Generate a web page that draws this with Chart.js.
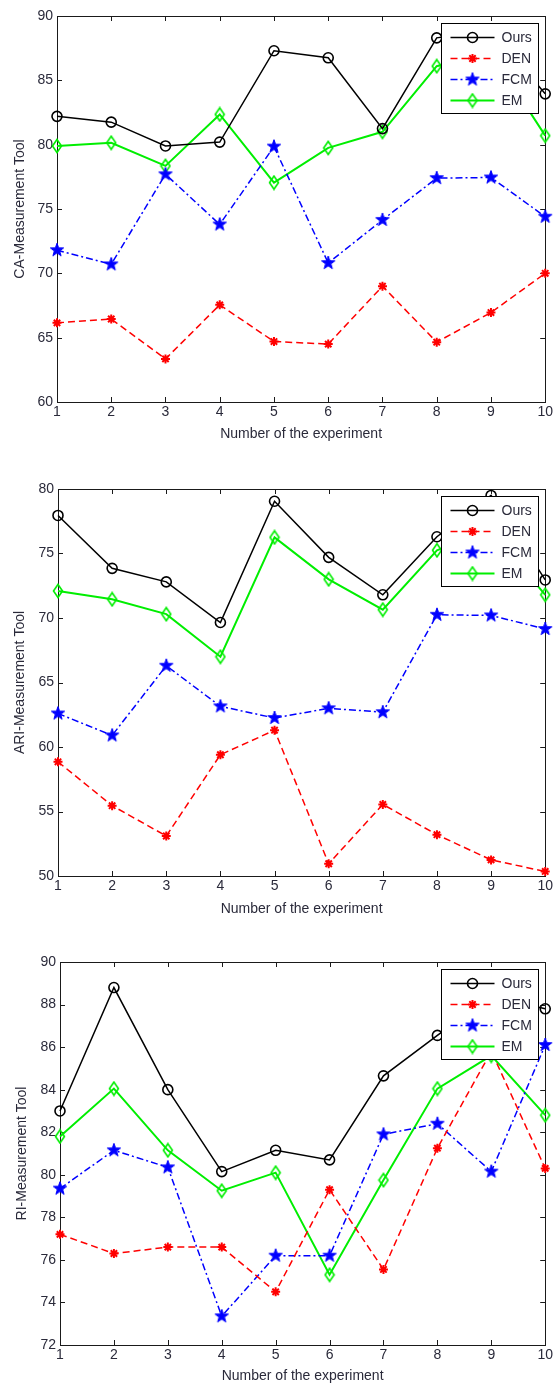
<!DOCTYPE html>
<html>
<head>
<meta charset="utf-8">
<script src="https://cdn.jsdelivr.net/npm/chart.js@4/dist/chart.umd.min.js"></script>
<style>
    body { margin: 0; background: #fff; width: 555px; height: 1387px; position: relative; overflow: hidden; }
    .plot { position: absolute; left: 0; width: 555px; }
</style>
</head>
<body>
<div class="plot" style="top:0;height:445px"><canvas id="caChart"></canvas></div>
<div class="plot" style="top:460px;height:460px"><canvas id="ariChart"></canvas></div>
<div class="plot" style="top:920px;height:467px"><canvas id="riChart"></canvas></div>
<script>
// Experiment numbers (x axis)
const expLabels = ['1', '2', '3', '4', '5', '6', '7', '8', '9', '10'];
const seriesNames = ['Ours', 'DEN', 'FCM', 'EM'];

// CA measurement
const caOurs = [82.2, 81.75, 79.9, 80.2, 87.3, 86.75, 81.25, 88.3, 88.9, 83.95];
const caDen  = [66.15, 66.45, 63.35, 67.55, 64.7, 64.5, 69.0, 64.65, 66.95, 70.0];
const caFcm  = [71.8, 70.7, 77.7, 73.8, 79.85, 70.8, 74.15, 77.4, 77.45, 74.4];
const caEm   = [79.9, 80.15, 78.35, 82.35, 77.05, 79.75, 81.0, 86.1, 87.2, 80.7];

// ARI measurement
const ariOurs = [77.95, 73.85, 72.8, 69.65, 79.05, 74.7, 71.8, 76.3, 79.5, 72.95];
const ariDen  = [58.85, 55.45, 53.1, 59.4, 61.3, 50.95, 55.55, 53.2, 51.25, 50.35];
const ariFcm  = [62.6, 60.9, 66.3, 63.15, 62.25, 63.0, 62.7, 70.25, 70.2, 69.15];
const ariEm   = [72.1, 71.45, 70.3, 67.0, 76.25, 73.0, 70.65, 75.25, 76.8, 71.8];

// RI measurement
const riOurs = [83.0, 88.8, 84.0, 80.15, 81.15, 80.7, 84.65, 86.55, 88.4, 87.8];
const riDen  = [77.2, 76.3, 76.6, 76.6, 74.5, 79.3, 75.55, 81.25, 85.8, 80.3];
const riFcm  = [79.35, 81.15, 80.35, 73.35, 76.2, 76.2, 81.9, 82.4, 80.15, 86.1];
const riEm   = [81.8, 84.05, 81.15, 79.25, 80.1, 75.3, 79.75, 84.05, 85.6, 82.8];

const TEXT = '#2a2a3a';
const FONT = 'Liberation Sans, Arial, sans-serif';

// MATLAB-like marker images
function makePentagram(color, r) {
    const c = document.createElement('canvas');
    c.width = c.height = Math.ceil(2 * r + 2);
    const g = c.getContext('2d');
    const cx = c.width / 2, cy = c.height / 2;
    g.beginPath();
    for (let i = 0; i < 10; i++) {
        const rad = i % 2 === 0 ? r : r * 0.4;
        const a = -Math.PI / 2 + i * Math.PI / 5;
        g.lineTo(cx + rad * Math.cos(a), cy + rad * Math.sin(a));
    }
    g.closePath();
    g.fillStyle = color;
    g.fill();
    g.strokeStyle = color;
    g.lineWidth = 1;
    g.stroke();
    return c;
}

function makeDiamond(color, hw, hh) {
    const c = document.createElement('canvas');
    c.width = Math.ceil(2 * hw + 3);
    c.height = Math.ceil(2 * hh + 3);
    const g = c.getContext('2d');
    const cx = c.width / 2, cy = c.height / 2;
    g.beginPath();
    g.moveTo(cx, cy - hh);
    g.lineTo(cx + hw, cy);
    g.lineTo(cx, cy + hh);
    g.lineTo(cx - hw, cy);
    g.closePath();
    g.strokeStyle = color;
    g.lineWidth = 1.6;
    g.stroke();
    return c;
}

const starImg = makePentagram('#0000ff', 7);
const diamondImg = makeDiamond('#00ee00', 4.5, 6.5);

function buildDatasets(ours, den, fcm, em) {
    return [
        { label: seriesNames[0], data: ours, borderColor: '#000000', backgroundColor: 'rgba(0,0,0,0)',
          borderWidth: 1.5, pointStyle: 'circle', pointRadius: 5, pointBorderWidth: 1.6 },
        { label: seriesNames[1], data: den, borderColor: '#ff0000', backgroundColor: '#ff0000',
          borderWidth: 1.5, borderDash: [7, 4], pointStyle: 'star', pointRadius: 4.5, pointBorderWidth: 2 },
        { label: seriesNames[2], data: fcm, borderColor: '#0000ff', backgroundColor: '#0000ff',
          borderWidth: 1.5, borderDash: [7, 3, 2, 3], pointStyle: starImg, pointRadius: 7 },
        { label: seriesNames[3], data: em, borderColor: '#00ee00', backgroundColor: 'rgba(0,0,0,0)',
          borderWidth: 2, pointStyle: diamondImg, pointRadius: 6 }
    ].map(ds => Object.assign(ds, { tension: 0, clip: false, pointHoverRadius: ds.pointRadius }));
}

// Box around the axes with inward ticks
const framePlugin = {
    id: 'frame',
    beforeDatasetsDraw(chart) {
        const { ctx, chartArea: a, scales } = chart;
        ctx.save();
        ctx.strokeStyle = '#1a1a1a';
        ctx.lineWidth = 1;
        ctx.beginPath();
        const tl = 5;
        scales.x.ticks.forEach((t, i) => {
            const px = Math.round(scales.x.getPixelForTick(i)) + 0.5;
            ctx.moveTo(px, a.bottom); ctx.lineTo(px, a.bottom - tl);
            ctx.moveTo(px, a.top); ctx.lineTo(px, a.top + tl);
        });
        scales.y.ticks.forEach(t => {
            const py = Math.round(scales.y.getPixelForValue(t.value)) + 0.5;
            ctx.moveTo(a.left, py); ctx.lineTo(a.left + tl, py);
            ctx.moveTo(a.right, py); ctx.lineTo(a.right - tl, py);
        });
        ctx.stroke();
        ctx.strokeRect(Math.round(a.left) + 0.5, Math.round(a.top) + 0.5,
            Math.round(a.right - a.left), Math.round(a.bottom - a.top));
        ctx.restore();
    }
};

function drawMarker(ctx, ds, x, y) {
    const st = ds.pointStyle;
    if (st instanceof HTMLCanvasElement) {
        ctx.drawImage(st, x - st.width / 2, y - st.height / 2);
        return;
    }
    ctx.setLineDash([]);
    ctx.strokeStyle = ds.borderColor;
    ctx.lineWidth = ds.pointBorderWidth;
    const r = ds.pointRadius;
    ctx.beginPath();
    if (st === 'circle') {
        ctx.arc(x, y, r, 0, Math.PI * 2);
    } else {
        for (let k = 0; k < 4; k++) {
            const a = k * Math.PI / 4;
            ctx.moveTo(x - r * Math.cos(a), y - r * Math.sin(a));
            ctx.lineTo(x + r * Math.cos(a), y + r * Math.sin(a));
        }
    }
    ctx.stroke();
}

// MATLAB style legend box in the upper right corner
const boxLegendPlugin = {
    id: 'boxLegend',
    afterDatasetsDraw(chart, args, opts) {
        const { ctx, chartArea: a } = chart;
        const w = opts.width, h = opts.height;
        const bx = Math.round(a.right - opts.right - w) + 0.5;
        const by = Math.round(a.top + opts.top) + 0.5;
        ctx.save();
        ctx.fillStyle = '#fff';
        ctx.fillRect(bx, by, w, h);
        ctx.strokeStyle = '#000';
        ctx.lineWidth = 1;
        ctx.strokeRect(bx, by, w, h);
        ctx.font = '14px ' + FONT;
        ctx.textBaseline = 'middle';
        chart.data.datasets.forEach((ds, i) => {
            const y = by + 14 + i * 21;
            ctx.strokeStyle = ds.borderColor;
            ctx.lineWidth = ds.borderWidth;
            ctx.setLineDash(ds.borderDash || []);
            ctx.beginPath();
            ctx.moveTo(bx + 9, y);
            ctx.lineTo(bx + 53, y);
            ctx.stroke();
            drawMarker(ctx, ds, bx + 31, y);
            ctx.fillStyle = TEXT;
            ctx.fillText(ds.label, bx + 60, y + 1);
        });
        ctx.restore();
    }
};

function makeChart(id, title, datasets, yMin, yMax, step, lay) {
    return new Chart(document.getElementById(id), {
        type: 'line',
        data: { labels: expLabels, datasets },
        plugins: [framePlugin, boxLegendPlugin],
        options: {
            responsive: true,
            maintainAspectRatio: false,
            animation: false,
            layout: { padding: { top: lay.top, right: lay.right, left: 0, bottom: 0 } },
            plugins: {
                legend: { display: false },
                tooltip: { enabled: false },
                boxLegend: { width: 97, height: 90, right: 7, top: 7 }
            },
            scales: {
                x: {
                    type: 'category',
                    offset: false,
                    grid: { display: false, drawTicks: false },
                    border: { display: false },
                    ticks: { color: TEXT, font: { family: FONT, size: 14 }, padding: 2, maxRotation: 0, autoSkip: false },
                    title: { display: true, text: 'Number of the experiment', color: TEXT,
                             font: { family: FONT, size: 14 }, padding: { top: 0, bottom: lay.titleB } },
                    afterFit(s) { s.height = lay.xh; }
                },
                y: {
                    min: yMin, max: yMax,
                    grid: { display: false, drawTicks: false },
                    border: { display: false },
                    ticks: { stepSize: step, color: TEXT, font: { family: FONT, size: 14 }, padding: 4 },
                    title: { display: true, text: title, color: TEXT,
                             font: { family: FONT, size: 14 }, padding: { top: lay.titleL, bottom: 0 } },
                    afterFit(s) { s.width = lay.yw; }
                }
            }
        }
    });
}

makeChart('caChart', 'CA-Measurement Tool', buildDatasets(caOurs, caDen, caFcm, caEm), 60, 90, 5,
    { top: 16, right: 7, yw: 57, xh: 43, titleB: 2, titleL: 12 });
makeChart('ariChart', 'ARI-Measurement Tool', buildDatasets(ariOurs, ariDen, ariFcm, ariEm), 50, 80, 5,
    { top: 29, right: 7, yw: 58, xh: 44, titleB: 2, titleL: 12 });
makeChart('riChart', 'RI-Measurement Tool', buildDatasets(riOurs, riDen, riFcm, riEm), 72, 90, 2,
    { top: 42, right: 9, yw: 60, xh: 42, titleB: 2, titleL: 14 });
</script>
</body>
</html>
